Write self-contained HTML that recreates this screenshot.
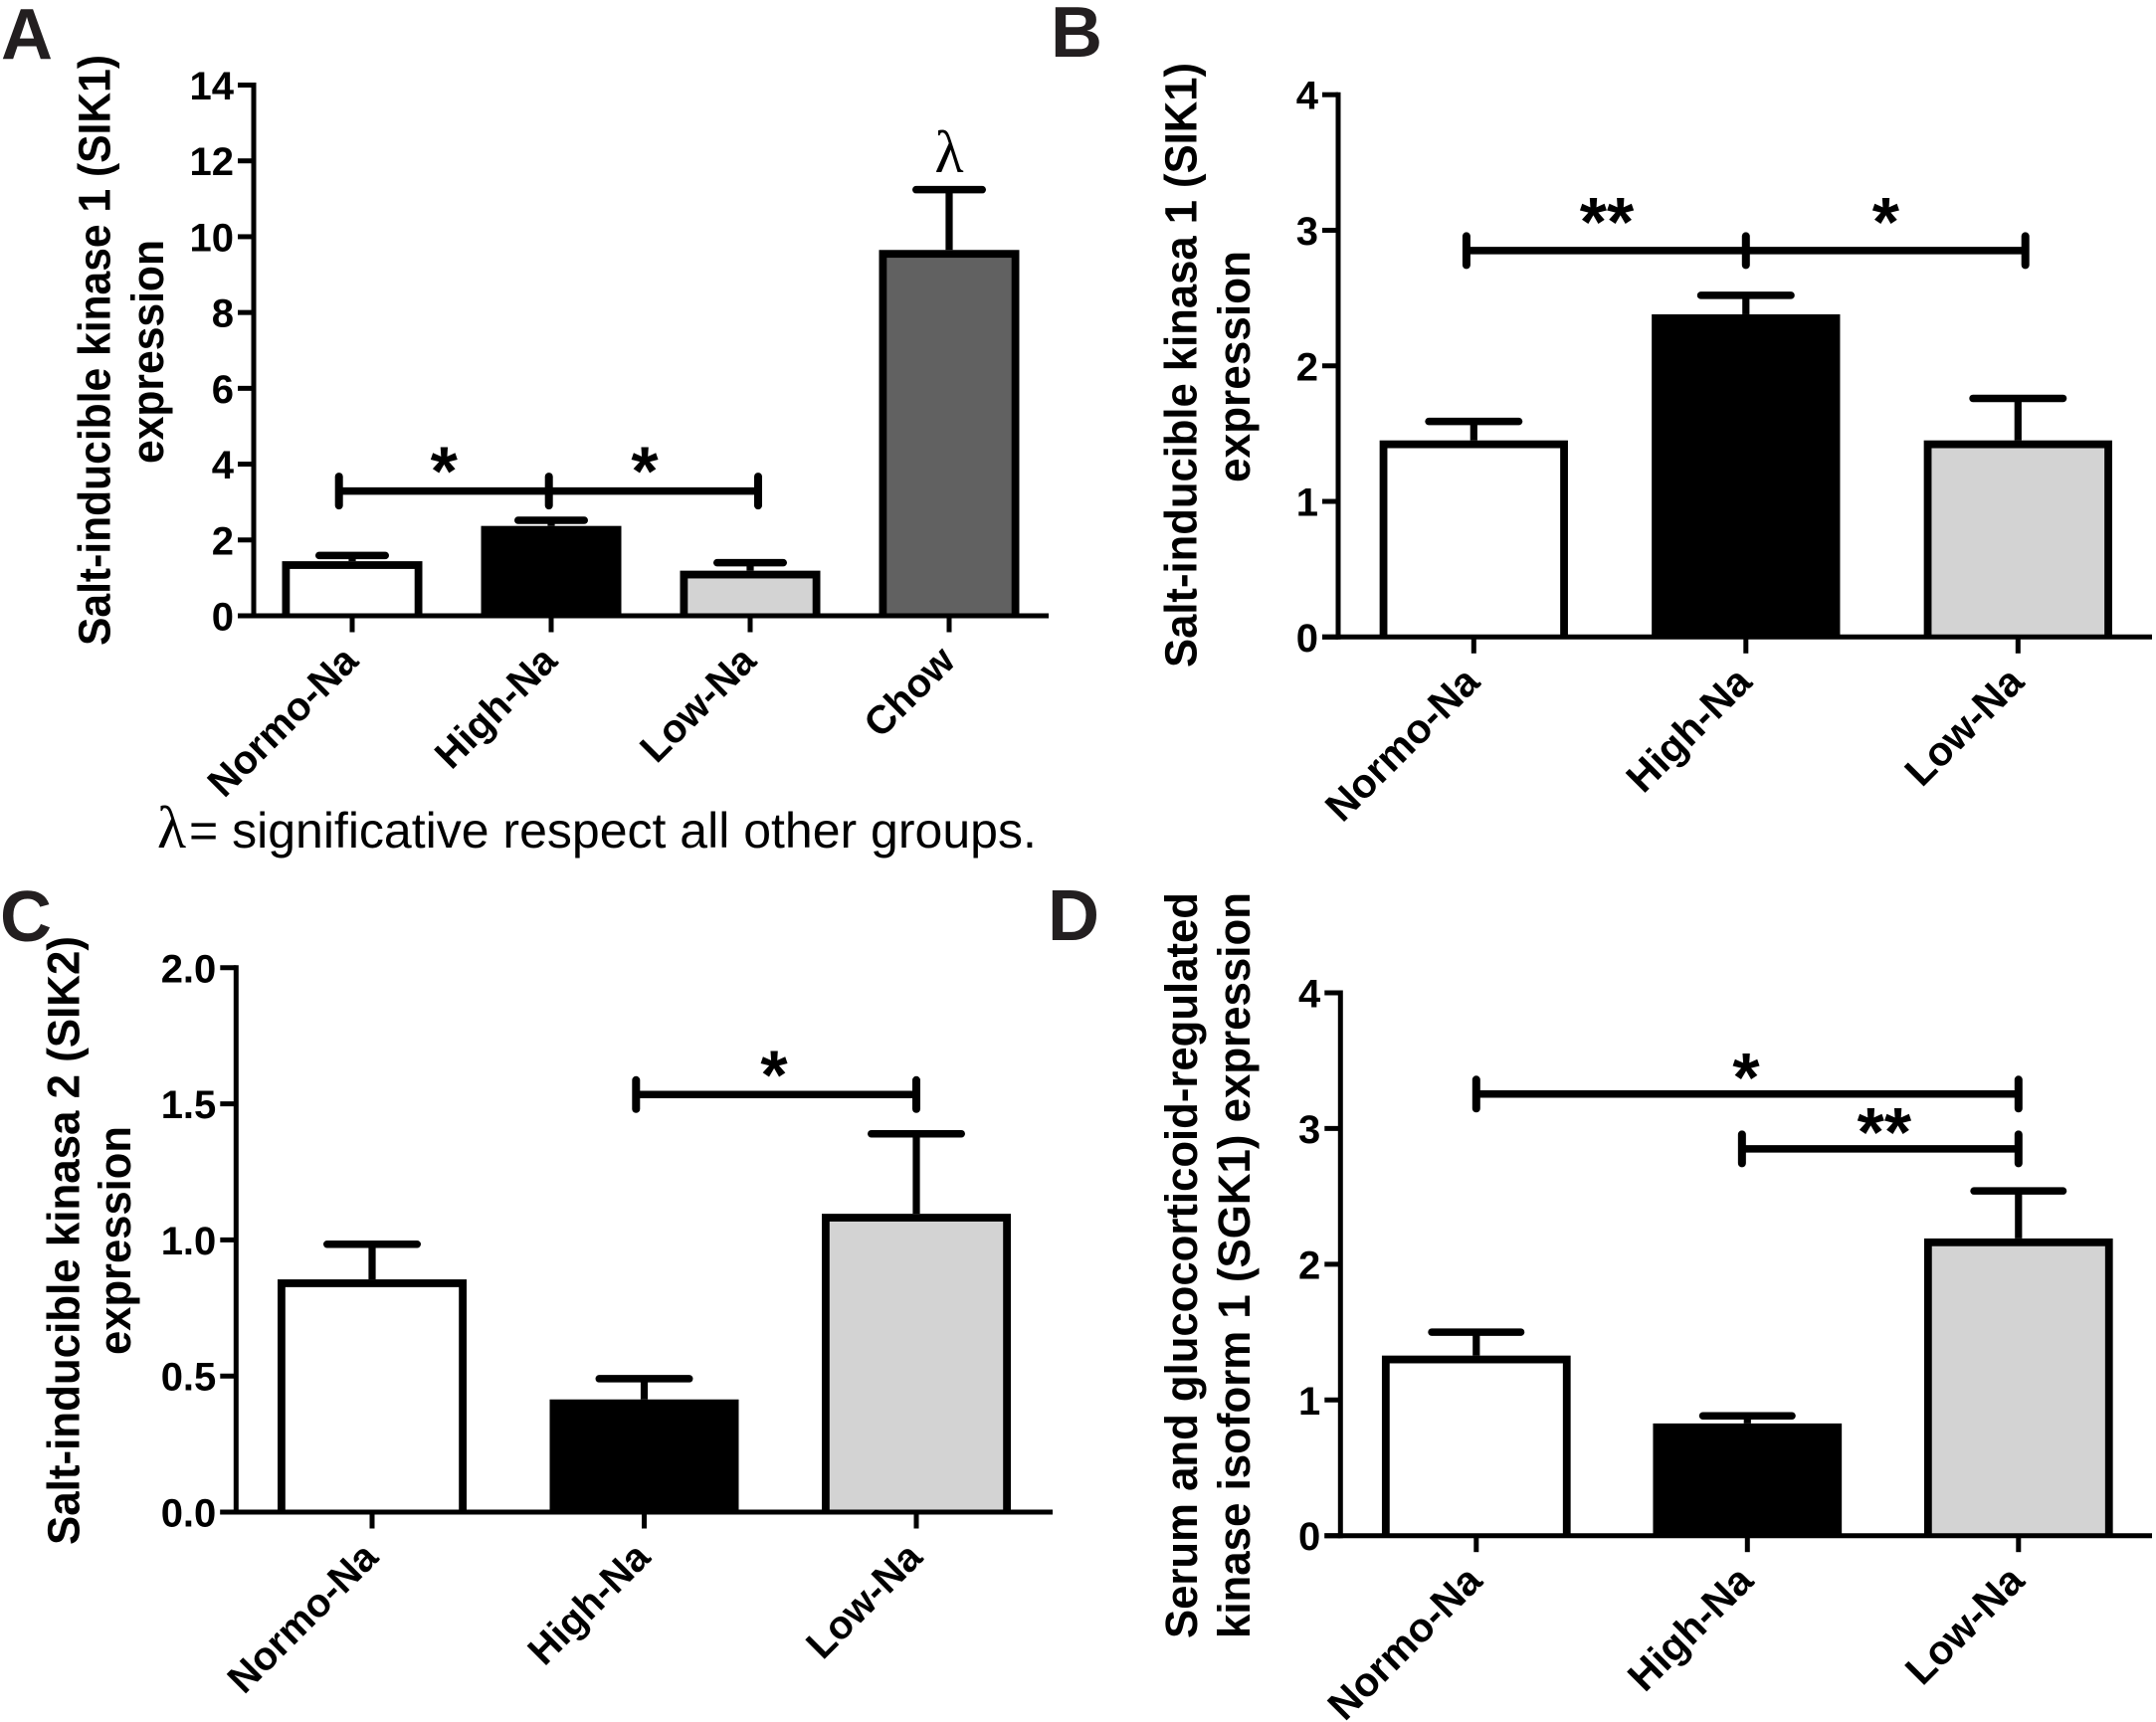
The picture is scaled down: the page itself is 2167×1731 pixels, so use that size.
<!DOCTYPE html>
<html>
<head>
<meta charset="utf-8">
<title>Salt-inducible kinase expression</title>
<style>
html,body{margin:0;padding:0;background:#fff;}
svg{display:block;}
text{font-family:"Liberation Sans",sans-serif;fill:#000;}
.title{font-weight:bold;font-size:45px;text-anchor:middle;}
.letter{font-weight:bold;fill:#231f20;font-size:72px;}
.greek{font-family:"Liberation Serif",serif;font-size:60px;}
</style>
</head>
<body>
<svg id="figure" width="2167" height="1731" viewBox="0 0 2167 1731" xmlns="http://www.w3.org/2000/svg">
  <rect x="0" y="0" width="2167" height="1731" fill="#fff"/>

  <text class="letter" x="1" y="59">A</text>
  <text class="letter" x="1056" y="57">B</text>
  <text class="letter" x="0" y="946">C</text>
  <text class="letter" x="1053" y="945">D</text>

  <text class="title" transform="translate(110.5 352) rotate(-90)" textLength="594" lengthAdjust="spacingAndGlyphs">Salt-inducible kinase 1 (SIK1)</text>
  <text class="title" transform="translate(164 353.5) rotate(-90)" textLength="225" lengthAdjust="spacingAndGlyphs">expression</text>

  <text class="title" transform="translate(1202.5 367) rotate(-90)" textLength="608" lengthAdjust="spacingAndGlyphs">Salt-inducible kinasa 1 (SIK1)</text>
  <text class="title" transform="translate(1256 368.5) rotate(-90)" textLength="233" lengthAdjust="spacingAndGlyphs">expression</text>

  <text class="title" transform="translate(79.5 1247) rotate(-90)" textLength="612" lengthAdjust="spacingAndGlyphs">Salt-inducible kinasa 2 (SIK2)</text>
  <text class="title" transform="translate(131 1247) rotate(-90)" textLength="230" lengthAdjust="spacingAndGlyphs">expression</text>

  <text class="title" transform="translate(1203 1272) rotate(-90)" textLength="750" lengthAdjust="spacingAndGlyphs">Serum and glucocorticoid-regulated</text>
  <text class="title" transform="translate(1256 1272) rotate(-90)" textLength="750" lengthAdjust="spacingAndGlyphs">kinase isoform 1 (SGK1) expression</text>

  <text class="greek" x="954" y="173" text-anchor="middle">λ</text>
  <text class="greek" x="158" y="852">λ</text>
  <text x="190" y="852" font-size="50">= significative respect all other groups.</text>
</svg>

<script>
/* ---------- data: panel A ---------- */
const aCategories = ["Normo-Na", "High-Na", "Low-Na", "Chow"];
const aMeans = [1.44, 2.37, 1.19, 9.65];
const aUpperErrors = [1.59, 2.52, 1.40, 11.24];
const aFills = ["#ffffff", "#000000", "#d3d3d3", "#616161"];
const aTickLabels = ["0", "2", "4", "6", "8", "10", "12", "14"];
const aTickValues = [0, 2, 4, 6, 8, 10, 12, 14];

/* ---------- data: panel B ---------- */
const bCategories = ["Normo-Na", "High-Na", "Low-Na"];
const bMeans = [1.45, 2.38, 1.45];
const bUpperErrors = [1.59, 2.52, 1.76];
const bFills = ["#ffffff", "#000000", "#d3d3d3"];
const bTickLabels = ["0", "1", "2", "3", "4"];
const bTickValues = [0, 1, 2, 3, 4];

/* ---------- data: panel C ---------- */
const cCategories = ["Normo-Na", "High-Na", "Low-Na"];
const cMeans = [0.855, 0.414, 1.096];
const cUpperErrors = [0.984, 0.49, 1.39];
const cFills = ["#ffffff", "#000000", "#d3d3d3"];
const cTickLabels = ["0.0", "0.5", "1.0", "1.5", "2.0"];
const cTickValues = [0, 0.5, 1, 1.5, 2];

/* ---------- data: panel D ---------- */
const dCategories = ["Normo-Na", "High-Na", "Low-Na"];
const dMeans = [1.327, 0.827, 2.19];
const dUpperErrors = [1.50, 0.883, 2.54];
const dFills = ["#ffffff", "#000000", "#d3d3d3"];
const dTickLabels = ["0", "1", "2", "3", "4"];
const dTickValues = [0, 1, 2, 3, 4];

/* significance brackets: level on the value axis; stops and star spots in category units */
const aBracketLevel = 3.29;
const aBracketStops = [-0.0665, 0.9885, 2.04];
const aBracketStars = ["*", "*"];
const aBracketStarSpots = [0.4615, 1.47];
const bBracketLevel = 2.85;
const bBracketStops = [-0.027, 1, 2.027];
const bBracketStars = ["**", "*"];
const bBracketStarSpots = [0.489, 1.514];
const cBracketLevel = 1.534;
const cBracketStops = [0.97, 2];
const cBracketStars = ["*"];
const cBracketStarSpots = [1.477];
const dBracketLevelUpper = 3.254;
const dBracketStopsUpper = [0, 2];
const dBracketStarsUpper = ["*"];
const dBracketStarSpotsUpper = [0.995];
const dBracketLevelLower = 2.85;
const dBracketStopsLower = [0.98, 2];
const dBracketStarsLower = ["**"];
const dBracketStarSpotsLower = [1.505];

const NS = "http://www.w3.org/2000/svg";
const fig = document.getElementById("figure");
const BAR_STROKE = 7.8;
const AXIS_STROKE = 5;

function make(tag, attrs) {
  const el = document.createElementNS(NS, tag);
  for (const k in attrs) el.setAttribute(k, attrs[k]);
  fig.appendChild(el);
  return el;
}

function drawBracket(p, yScale, xScale, level, stops, stars, starSpots) {
  const yLine = yScale(level);
  const first = stops[0];
  const last = stops[stops.length - 1];
  const line = make("line", {x1: xScale(first), x2: xScale(last), y1: yLine, y2: yLine, stroke: "#000", "stroke-width": 7.5});
  
  
  stops.forEach(function (s) {
    const t = make("line", {x1: xScale(s), x2: xScale(s), y1: yLine - 14.5, y2: yLine + 14.5, stroke: "#000", "stroke-width": 8, "stroke-linecap": "round"});
    
    
  });
  stars.forEach(function (label, i) {
    const st = make("text", {x: xScale(starSpots[i]), y: yLine + 8 - p.starLift, "text-anchor": "middle", "font-size": 70, "font-weight": "bold"});
    st.textContent = label;
    
    
  });
}

function drawPanel(p, categories, means, uppers, fills, tickValues, tickLabels) {
  const maxValue = tickValues[tickValues.length - 1];
  const yScale = function (v) { return p.y0 - v * (p.y0 - p.top) / maxValue; };
  const xScale = function (i) { return p.x0 + i * p.step; };

  /* bars: a black outer block with the fill inset at top and sides, open at the baseline */
  categories.forEach(function (cat, i) {
    const cx = xScale(i);
    const top = yScale(means[i]);
    const stem = make("line", {x1: cx, x2: cx, y1: top, y2: yScale(uppers[i]), stroke: "#000", "stroke-width": 7.2});
    
    
    const cap = make("line", {x1: cx - p.capW / 2 + 3.75, x2: cx + p.capW / 2 - 3.75, y1: yScale(uppers[i]), y2: yScale(uppers[i]), stroke: "#000", "stroke-width": 7.5, "stroke-linecap": "round"});
    
    
    const bar = make("rect", {x: cx - p.barW / 2, y: top, width: p.barW, height: p.y0 - top, fill: "#000"});
    
    
    const inner = make("rect", {x: cx - p.barW / 2 + BAR_STROKE, y: top + BAR_STROKE, width: p.barW - 2 * BAR_STROKE, height: Math.max(0, p.y0 - top - BAR_STROKE), fill: fills[i]});
    
    
  });

  /* axes */
  const yAxis = make("line", {x1: p.axisX, x2: p.axisX, y1: p.top - 2.5, y2: p.y0 + 2.5, stroke: "#000", "stroke-width": AXIS_STROKE});
  
  
  const xAxis = make("line", {x1: p.axisX - 16, x2: p.right, y1: p.y0, y2: p.y0, stroke: "#000", "stroke-width": AXIS_STROKE});
  
  

  tickValues.forEach(function (v, i) {
    const ty = yScale(v);
    const tick = make("line", {x1: p.axisX - 16, x2: p.axisX, y1: ty, y2: ty, stroke: "#000", "stroke-width": AXIS_STROKE});
    
    
    const lab = make("text", {x: p.axisX - 20, y: ty + 14.5, "text-anchor": "end", "font-size": 40, "font-weight": "bold"});
    lab.textContent = tickLabels[i];
    
    
  });

  categories.forEach(function (cat, i) {
    const cx = xScale(i);
    const tick = make("line", {x1: cx, x2: cx, y1: p.y0, y2: p.y0 + 16.5, stroke: "#000", "stroke-width": AXIS_STROKE});
    
    
    const lab = make("text", {transform: "translate(" + (cx + 8) + " " + (p.y0 + 47.5) + ") rotate(-45)", "text-anchor": "end", "font-size": p.catFont, "font-weight": "bold"});
    lab.textContent = cat;
    
    
  });

  return {yScale: yScale, xScale: xScale};
}

const panelA = {id: "a", axisX: 255, top: 85.5, y0: 619, right: 1054, x0: 354, step: 200, barW: 141, capW: 74, catFont: 40, starLift: 4};
const panelB = {id: "b", axisX: 1345, top: 95.2, y0: 640.3, right: 2163, x0: 1481.3, step: 273.5, barW: 189.3, capW: 98, catFont: 41, starLift: 13};
const panelC = {id: "c", axisX: 237.3, top: 972.8, y0: 1520, right: 1058, x0: 374, step: 273.5, barW: 190, capW: 98, catFont: 40, starLift: 4};
const panelD = {id: "d", axisX: 1347.3, top: 998, y0: 1543.7, right: 2163, x0: 1483.8, step: 272.5, barW: 189.7, capW: 97, catFont: 41, starLift: 1};

const sa = drawPanel(panelA, aCategories, aMeans, aUpperErrors, aFills, aTickValues, aTickLabels);
drawBracket(panelA, sa.yScale, sa.xScale, aBracketLevel, aBracketStops, aBracketStars, aBracketStarSpots);

const sb = drawPanel(panelB, bCategories, bMeans, bUpperErrors, bFills, bTickValues, bTickLabels);
drawBracket(panelB, sb.yScale, sb.xScale, bBracketLevel, bBracketStops, bBracketStars, bBracketStarSpots);

const sc = drawPanel(panelC, cCategories, cMeans, cUpperErrors, cFills, cTickValues, cTickLabels);
drawBracket(panelC, sc.yScale, sc.xScale, cBracketLevel, cBracketStops, cBracketStars, cBracketStarSpots);

const sd = drawPanel(panelD, dCategories, dMeans, dUpperErrors, dFills, dTickValues, dTickLabels);
drawBracket(panelD, sd.yScale, sd.xScale, dBracketLevelUpper, dBracketStopsUpper, dBracketStarsUpper, dBracketStarSpotsUpper);
drawBracket(panelD, sd.yScale, sd.xScale, dBracketLevelLower, dBracketStopsLower, dBracketStarsLower, dBracketStarSpotsLower);
</script>
</body>
</html>
